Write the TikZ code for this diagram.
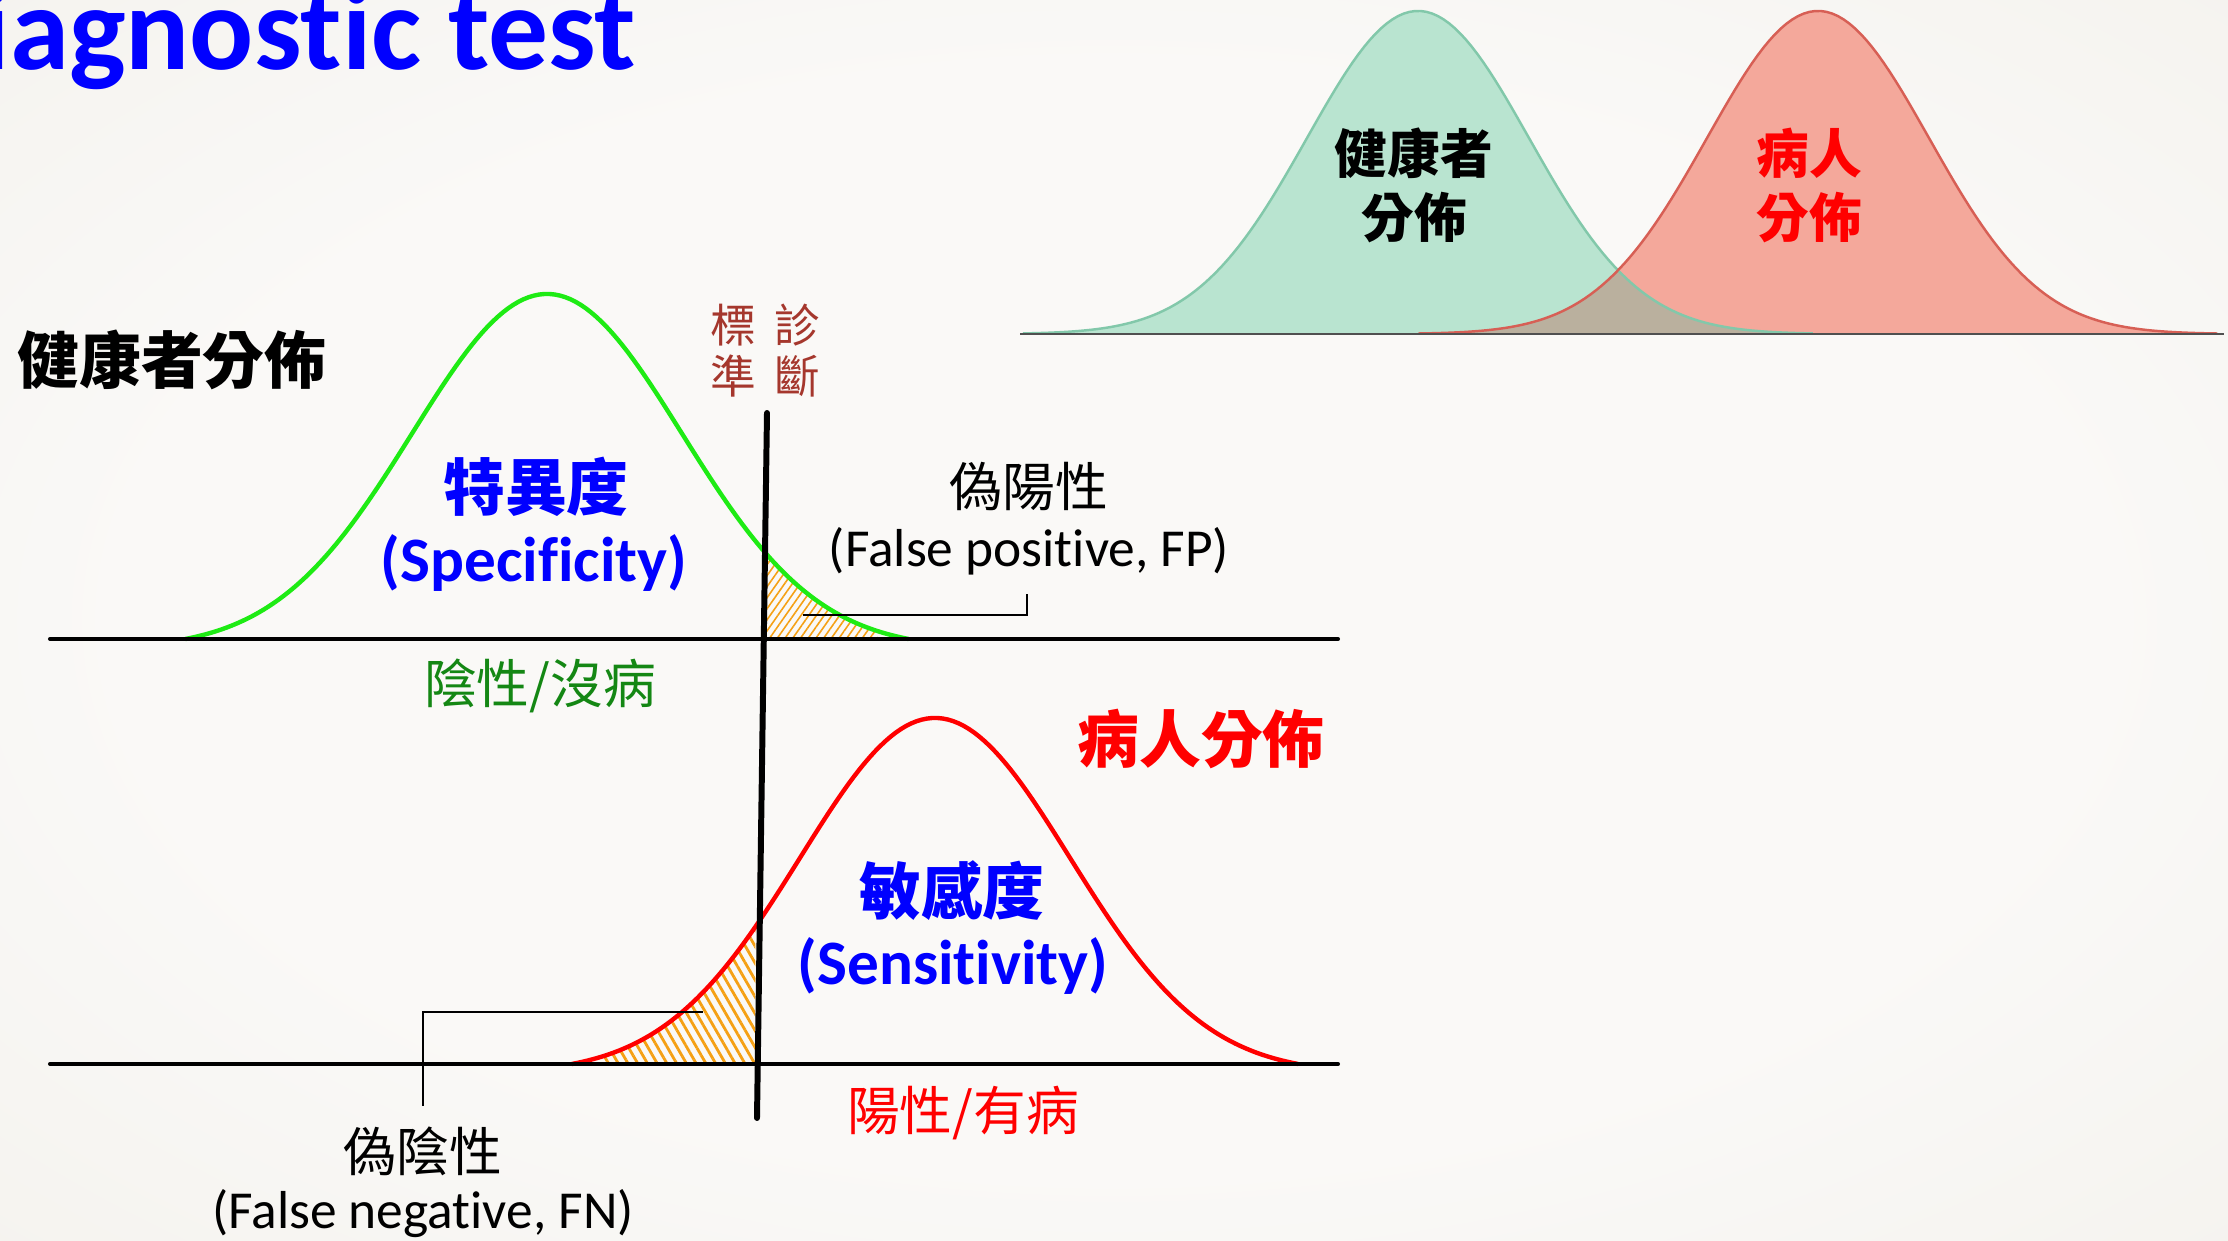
\documentclass[tikz,border=0pt]{standalone}
\usepackage{fontspec}
\setmainfont{Carlito}[Ligatures={NoCommon}]
\newfontfamily\cjk{Noto Sans CJK TC}
\usetikzlibrary{patterns.meta}

\definecolor{titleblue}{RGB}{0,0,255}
\definecolor{curvegreen}{RGB}{30,235,20}
\definecolor{curvered}{RGB}{255,0,0}
\definecolor{hatchcol}{RGB}{245,160,20}
\definecolor{labgreen}{RGB}{20,135,20}
\definecolor{critred}{RGB}{165,55,45}
\definecolor{mintfill}{RGB}{185,228,208}
\definecolor{mintedge}{RGB}{130,200,170}
\definecolor{salmonfill}{RGB}{244,168,155}
\definecolor{salmonedge}{RGB}{215,95,85}
\definecolor{overlapfill}{RGB}{186,176,158}
\definecolor{axisgray}{RGB}{80,80,80}
\definecolor{bgin}{RGB}{250,249,247}
\definecolor{bgmid}{RGB}{240,237,231}
\definecolor{bgout}{RGB}{229,224,214}

\pgfdeclareradialshading{bgshade}{\pgfpoint{0bp}{0bp}}{color(0bp)=(bgin); color(22bp)=(bgin); color(50bp)=(bgmid); color(71bp)=(bgout)}

\newcommand\setfs[2]{\fontsize{#1pt}{#2pt}\selectfont}

\tikzset{
  lbl/.style={inner sep=0pt, anchor=center},
  bigcjk/.style={lbl, font=\cjk\bfseries\setfs{17.6}{21}},
  midcjk/.style={lbl, font=\cjk\setfs{15}{18}},
  biglat/.style={lbl, font=\bfseries\setfs{18}{21}},
  midlat/.style={lbl, font=\setfs{15.2}{18}},
  toplab/.style={lbl, align=center, font=\cjk\bfseries\setfs{15}{18.2}},
  critlab/.style={lbl, align=center, text=critred, font=\cjk\setfs{13}{14.5}},
  callout/.style={black, line width=0.45pt},
  baseaxis/.style={black, line width=1.15pt, line cap=round},
  bell/.style={line width=1.25pt},
}

\begin{document}
\begin{tikzpicture}[x=0.1mm, y=-0.1mm]
\useasboundingbox (0,0) rectangle (2228,1241);
\shade[shading=bgshade] (0,0) rectangle (2228,1241);

% title (cut at the left edge, as in the slide)
\node[inner sep=0pt, anchor=base west, text=titleblue, font=\bfseries\setfs{34}{40}] (title) at (-20,70) {iagnostic test};

% ---------- top-right overlapping distributions ----------
\path[fill=mintfill] (1023,334) -- plot[domain=-3.56:3.56, samples=140] ({1418+111*\x},{334-323*exp(-(\x)*(\x)/2)}) -- (1813,334) -- cycle;
\path[fill=salmonfill] (1418,334) -- plot[domain=-3.6:3.6, samples=140] ({1818+111*\x},{334-323*exp(-(\x)*(\x)/2)}) -- (2218,334) -- cycle;
\begin{scope}
  \clip (1023,334) -- plot[domain=-3.56:3.56, samples=140] ({1418+111*\x},{334-323*exp(-(\x)*(\x)/2)}) -- (1813,334) -- cycle;
  \fill[overlapfill] (1418,334) -- plot[domain=-3.6:3.6, samples=140] ({1818+111*\x},{334-323*exp(-(\x)*(\x)/2)}) -- (2218,334) -- cycle;
\end{scope}
\draw[mintedge, line width=0.7pt] plot[domain=-3.56:3.56, samples=140] ({1418+111*\x},{334-323*exp(-(\x)*(\x)/2)});
\draw[salmonedge, line width=0.7pt] plot[domain=-3.6:3.6, samples=140] ({1818+111*\x},{334-323*exp(-(\x)*(\x)/2)});
\draw[axisgray, line width=0.7pt] (1020,334) -- (2224,334);
\node[toplab, text=black] (healthyTop) at (1414,185) {健康者\\分佈};
\node[toplab, text=curvered] (sickTop) at (1809,185) {病人\\分佈};

% ---------- hatched areas ----------
\path[pattern={Lines[angle=55,distance=1.8pt,line width=0.45pt]}, pattern color=hatchcol]
  (767,639) -- plot[domain=1.63:2.45, samples=40] ({547+135*\x},{639-345*(exp(-(\x)*(\x)/2)-0.0276)/0.9724}) -- (878,639) -- cycle;
\path[pattern={Lines[angle=-60,distance=2.4pt,line width=0.8pt]}, pattern color=hatchcol]
  (604,1064) -- plot[domain=-2.45:-1.33, samples=40] ({935+135*\x},{1064-346*(exp(-(\x)*(\x)/2)-0.0268)/0.9732}) -- (755,1064) -- cycle;

% ---------- bell curves ----------
\draw[bell, curvegreen] plot[domain=-2.68:2.68, samples=140] ({547+135*\x},{639-345*(exp(-(\x)*(\x)/2)-0.0276)/0.9724});
\draw[bell, curvered] plot[domain=-2.69:2.69, samples=140] ({935+135*\x},{1064-346*(exp(-(\x)*(\x)/2)-0.0268)/0.9732});

% axes
\draw[baseaxis] (50,639) -- (1338,639);
\draw[baseaxis] (50,1064) -- (1338,1064);

% criterion line
\coordinate (critTop) at (767,413);
\coordinate (critBot) at (757,1118);
\draw[black, line width=1.7pt, line cap=round] (critTop) -- (critBot);

% ---------- labels ----------
\node[bigcjk, text=black] (healthy) at (172,360) {健康者分佈};
\node[critlab] (critL) at (733,351) {標\\準};
\node[critlab] (critR) at (797,351) {診\\斷};

\node[bigcjk, text=titleblue] (spec) at (536,487) {特異度};
\node[biglat, text=titleblue] (specEn) at (534,563) {(Specificity)};

\node[midcjk, text=black] (fp) at (1029,487) {偽陽性};
\node[midlat, text=black] (fpEn) at (1029,551) {(False positive, FP)};

\node[midcjk, text=labgreen] (neg) at (540,686) {陰性/沒病};

\node[bigcjk, text=curvered] (sick) at (1201,739) {病人分佈};
\node[bigcjk, text=titleblue] (sens) at (952,891) {敏感度};
\node[biglat, text=titleblue] (sensEn) at (953,966) {(Sensitivity)};

\node[midcjk, text=curvered] (pos) at (963,1113) {陽性/有病};

\node[midcjk, text=black] (fn) at (423,1151) {偽陰性};
\node[midlat, text=black] (fnEn) at (423,1214) {(False negative, FN)};

% ---------- callouts ----------
\coordinate (fpTip) at (803,615);
\coordinate (fpEnd) at (1027,594);
\draw[callout] (fpTip) -| (fpEnd);
\coordinate (fnTip) at (703,1012);
\coordinate (fnEnd) at (423,1106);
\draw[callout] (fnTip) -| (fnEnd);
\end{tikzpicture}
\end{document}
